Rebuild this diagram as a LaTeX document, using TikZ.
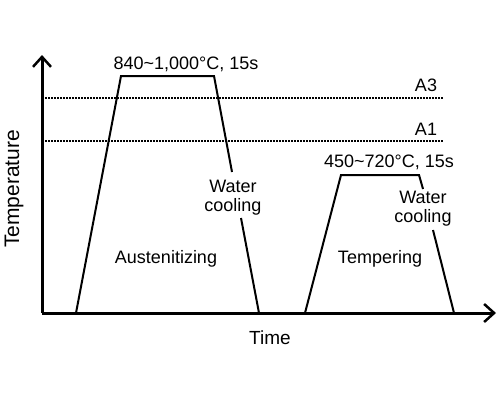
\documentclass[tikz,border=0pt]{standalone}
\usepackage{fontspec}
\setmainfont{Liberation Sans}
\usetikzlibrary{arrows.meta}
\begin{document}
\begin{tikzpicture}[x=1pt,y=-1pt,
  lbl/.style={inner sep=0pt, font=\fontsize{18}{19}\selectfont, align=center},
  axisline/.style={line width=3pt, line cap=butt,
    -{Straight Barb[length=10pt,width=18pt,line width=2.5pt]}},
  profile/.style={line width=2pt, line join=miter},
  crit/.style={line width=1.6pt, dash pattern=on 1.6pt off 1.4pt}]
\useasboundingbox (0,0) rectangle (500,400);
% axes
\coordinate (O) at (42,313);
\coordinate (ytop) at (42,55);
\coordinate (xend) at (496,313);
\draw[axisline] (O) -- (ytop);
\draw[axisline] (O) -- (xend);
% critical temperatures
\coordinate (a3s) at (45,98);
\coordinate (a3e) at (443,98);
\coordinate (a1s) at (45,141);
\coordinate (a1e) at (443,141);
\draw[crit] (a3s) -- (a3e);
\draw[crit] (a1s) -- (a1e);
\node[lbl] (A3) at (426,85) {A3};
\node[lbl] (A1) at (426,129) {A1};
% austenitizing profile
\coordinate (p1) at (76,313);
\coordinate (p2) at (121,76);
\coordinate (p3) at (214,76);
\coordinate (p4) at (232,172);
\coordinate (p5) at (241,218);
\coordinate (p6) at (259,313);
\draw[profile] (p1) -- (p2) -- (p3) -- (p4);
\draw[profile] (p5) -- (p6);
% tempering profile
\coordinate (q1) at (305,313);
\coordinate (q2) at (341,175);
\coordinate (q3) at (419,175);
\coordinate (q4) at (423,189);
\coordinate (q5) at (433,230);
\coordinate (q6) at (454,313);
\draw[profile] (q1) -- (q2) -- (q3) -- (q4);
\draw[profile] (q5) -- (q6);
% labels
\node[lbl] (T1) at (186,64) {840\textasciitilde 1,000\textdegree C, 15s};
\node[lbl] (T2) at (389,162) {450\textasciitilde 720\textdegree C, 15s};
\node[lbl] (W1) at (233,198) {Water\\cooling};
\node[lbl] (W2) at (423,209) {Water\\cooling};
\node[lbl] (aus) at (166,259) {Austenitizing};
\node[lbl] (tem) at (380,259) {Tempering};
\node[lbl, font=\fontsize{19}{20}\selectfont] (time) at (270,338) {Time};
\node[lbl, font=\fontsize{21}{22}\selectfont, rotate=90] (temp) at (14,189) {Temperature};
\end{tikzpicture}
\end{document}
